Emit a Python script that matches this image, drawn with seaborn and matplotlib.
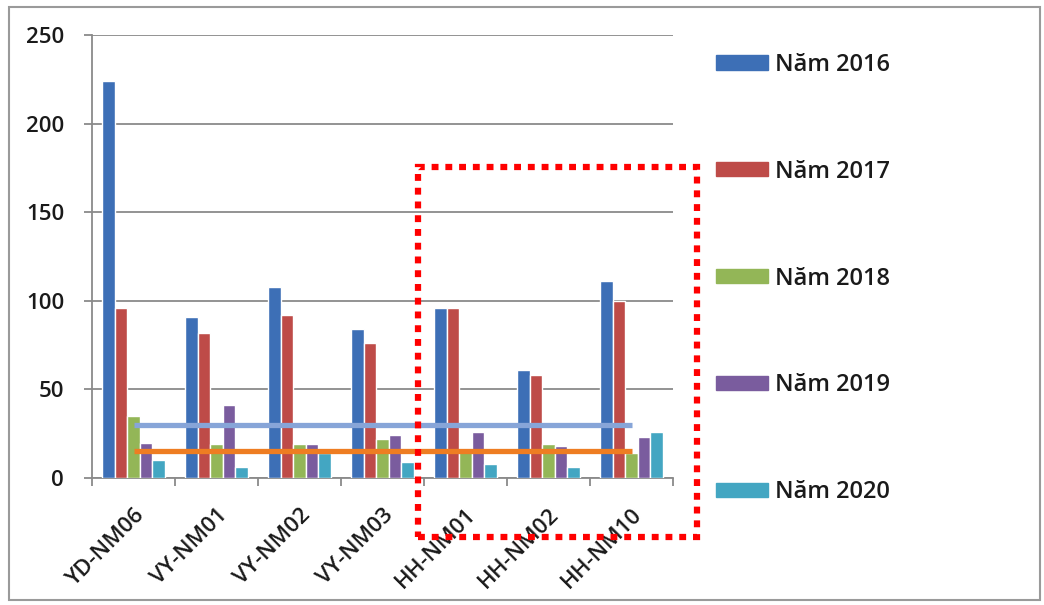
import matplotlib
matplotlib.use("Agg")
import matplotlib.pyplot as plt
import matplotlib.patches as mpatches
import pandas as pd
import seaborn as sns

# data
stations = ['YD-NM06', 'VY-NM01', 'VY-NM02', 'VY-NM03', 'HH-NM01', 'HH-NM02', 'HH-NM10']
years = ['Năm 2016', 'Năm 2017', 'Năm 2018', 'Năm 2019', 'Năm 2020']
v2016 = [224, 91, 108, 84, 96, 61, 111]
v2017 = [96, 82, 92, 76, 96, 58, 100]
v2018 = [35, 19, 19, 22, 15, 19, 14]
v2019 = [20, 41, 19, 24, 26, 18, 23]
v2020 = [10, 6, 14, 9, 8, 6, 26]
limit_blue = 30
limit_orange = 15
yticks = [0, 50, 100, 150, 200, 250]

colors = ['#3d6fb6', '#be4b48', '#93b657', '#7a5c9e', '#43a6c2']

rows = []
for yr, vals in zip(years, [v2016, v2017, v2018, v2019, v2020]):
    for st, v in zip(stations, vals):
        rows.append({'station': st, 'year': yr, 'value': v})
df = pd.DataFrame(rows)

sns.set_style("white")
plt.rcParams['font.family'] = ['Open Sans', 'DejaVu Sans']

fig = plt.figure(figsize=(10.44, 6.05), dpi=100)
ax = fig.add_axes([92/1044, 1-478/605, 581/1044, 443/605])

sns.barplot(data=df, x='station', y='value', hue='year', hue_order=years,
            order=stations, palette=colors, saturation=1, width=0.76, gap=0,
            errorbar=None, ax=ax, zorder=3)

# reference lines
ax.plot([0, len(stations) - 1], [limit_blue] * 2, color='#87a5d8', lw=3.8, zorder=4,
        solid_capstyle='butt')
ax.plot([0, len(stations) - 1], [limit_orange] * 2, color='#ee7d22', lw=3.8, zorder=4,
        solid_capstyle='butt')

ax.set_ylim(0, 250)
ax.set_xlim(-0.5, len(stations) - 0.5)
ax.set_yticks(yticks)
ax.set_yticklabels([str(v) for v in yticks], fontweight='semibold')
ax.yaxis.grid(True, color='#8a8a8a', lw=1.3, zorder=0)
ax.set_axisbelow(True)
ax.set_xlabel('')
ax.set_ylabel('')
for s in ['top', 'right']:
    ax.spines[s].set_visible(False)
for s in ['left', 'bottom']:
    ax.spines[s].set_color('#8a8a8a')
    ax.spines[s].set_linewidth(1.3)

ax.tick_params(axis='y', length=6, width=1.3, color='#8a8a8a', pad=14,
               labelsize=16, labelcolor='#1a1a1a', left=True)
ax.set_xticks(range(len(stations)))
ax.set_xticklabels(stations, rotation=45, ha='right', rotation_mode='anchor',
                   fontweight='semibold')
ax.tick_params(axis='x', length=0, pad=19, labelsize=16, labelcolor='#1a1a1a')
ax.set_xticks([i - 0.5 for i in range(len(stations) + 1)], minor=True)
ax.tick_params(axis='x', which='minor', length=6, width=1.3, color='#8a8a8a', bottom=True)

# legend on the right
ax.get_legend().remove()
handles = [mpatches.Patch(color=c) for c in colors]
leg = fig.legend(handles, years, loc='upper left', bbox_to_anchor=(704/1044, 1-41/605),
                 frameon=False, borderpad=0, labelspacing=3.51, handlelength=2.2,
                 handleheight=0.55, handletextpad=0.3,
                 prop={'size': 17, 'weight': 'semibold'})
for t in leg.get_texts():
    t.set_color('#1a1a1a')

# red dotted highlight box
box = mpatches.Rectangle((418/1044, 1-537/605), (697-418)/1044, (537-167)/605,
                         transform=fig.transFigure, fill=False, edgecolor='#ff0000',
                         lw=4.5, linestyle=(0, (1.1, 1.1)), zorder=10)
fig.add_artist(box)

# outer frame
frame = mpatches.Rectangle((9/1044, 1-600/605), (1040-9)/1044, (600-7)/605,
                           transform=fig.transFigure, fill=False, edgecolor='#9a9a9a',
                           lw=1.5)
fig.add_artist(frame)

fig.savefig('out.png', dpi=100)
